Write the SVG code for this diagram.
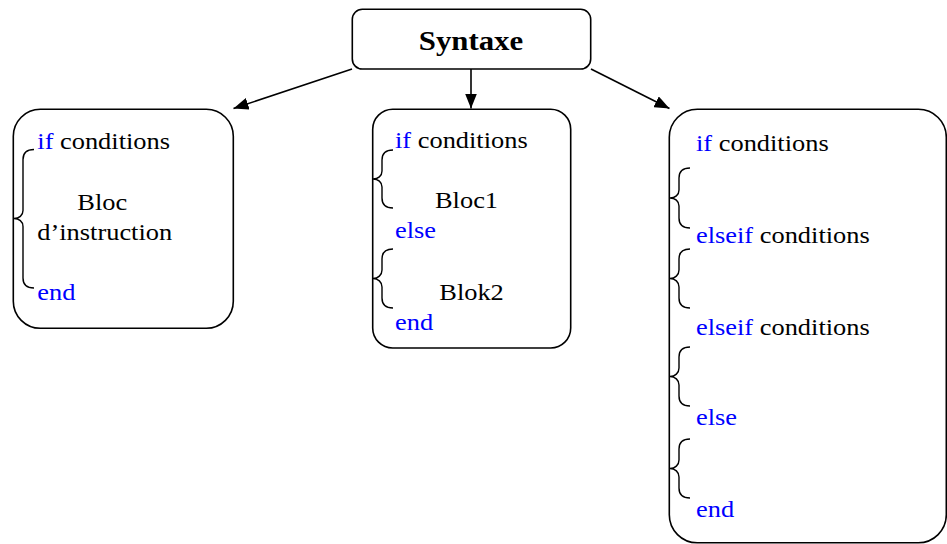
<svg xmlns="http://www.w3.org/2000/svg" width="947" height="544" viewBox="0 0 947 544">
  <style>
    .box { fill: #ffffff; stroke: #000000; stroke-width: 1.6; }
    .edge { stroke: #000000; stroke-width: 1.6; fill: none; }
    .brace { stroke: #000000; stroke-width: 1.4; fill: none; }
    .t { font-family: "Liberation Serif", "Times New Roman", serif; font-size: 24px; fill: #000000; }
    .kw { fill: #0000ff; }
    .title { font-family: "Liberation Serif", "Times New Roman", serif; font-size: 28px; font-weight: bold; fill: #000000; }
  </style>
  <defs>
    <marker id="arrow" viewBox="0 0 15 12" refX="15" refY="6" markerWidth="15" markerHeight="12" markerUnits="userSpaceOnUse" orient="auto">
      <path d="M0,0 L15,6 L0,12 Z" fill="#000000"/>
    </marker>
  </defs>

  <rect width="947" height="544" fill="#ffffff"/>

  <!-- connectors from the root box to the three syntax forms -->
  <g id="connectors">
    <line class="edge" x1="352" y1="69" x2="233.5" y2="108.5" marker-end="url(#arrow)"/>
    <line class="edge" x1="471" y1="69" x2="471" y2="108.5" marker-end="url(#arrow)"/>
    <line class="edge" x1="591" y1="69" x2="669.5" y2="108.5" marker-end="url(#arrow)"/>
  </g>

  <!-- root -->
  <g id="syntaxe">
    <rect class="box" x="352.3" y="9.3" width="238.4" height="59.7" rx="10"/>
    <text class="title" transform="matrix(1.1 0 0 1 471 50)" text-anchor="middle">Syntaxe</text>
  </g>

  <!-- if ... end -->
  <g id="if-end">
    <rect class="box" x="13.3" y="109.3" width="220" height="219" rx="27"/>
    <path class="brace" d="M34,149.5 C27,149.5 23,152.5 23,159.5 L23,210.5 C23,215.5 19,218.5 14,218.5 C19,218.5 23,221.5 23,226.5 L23,278 C23,285 27,288 34,288"/>
    <text class="t" transform="matrix(1.1 0 0 1 37.3 149)"><tspan class="kw">if</tspan> conditions</text>
    <text class="t" transform="matrix(1.1 0 0 1 77.3 210)">Bloc</text>
    <text class="t" transform="matrix(1.1 0 0 1 37.3 240)">d’instruction</text>
    <text class="t kw" transform="matrix(1.1 0 0 1 37.3 300)">end</text>
  </g>

  <!-- if ... else ... end -->
  <g id="if-else-end">
    <rect class="box" x="372.7" y="109.3" width="198" height="238.7" rx="20"/>
    <path class="brace" d="M393,150 C386,150 382,153 382,160 L382,171 C382,176 378,179 373,179 C378,179 382,182 382,187 L382,198 C382,205 386,208 393,208"/>
    <path class="brace" d="M393,249 C386,249 382,252 382,259 L382,270 C382,275 378,278.5 373,278.5 C378,278.5 382,282 382,287 L382,298 C382,305 386,308 393,308"/>
    <text class="t" transform="matrix(1.1 0 0 1 395 148)"><tspan class="kw">if</tspan> conditions</text>
    <text class="t" transform="matrix(1.1 0 0 1 435 208)">Bloc1</text>
    <text class="t kw" transform="matrix(1.1 0 0 1 395 238)">else</text>
    <text class="t" transform="matrix(1.1 0 0 1 439.3 300)">Blok2</text>
    <text class="t kw" transform="matrix(1.1 0 0 1 395 330)">end</text>
  </g>

  <!-- if ... elseif ... elseif ... else ... end -->
  <g id="if-elseif-else-end">
    <rect class="box" x="669.3" y="109.3" width="277" height="433.5" rx="28"/>
    <path class="brace" d="M690,168 C683,168 679,171 679,178 L679,190 C679,195 675,198 670,198 C675,198 679,201 679,206 L679,218 C679,225 683,228 690,228"/>
    <path class="brace" d="M690,249 C683,249 679,252 679,259 L679,270 C679,275 675,278.5 670,278.5 C675,278.5 679,282 679,287 L679,298 C679,305 683,308 690,308"/>
    <path class="brace" d="M690,347 C683,347 679,350 679,357 L679,368 C679,373 675,376.5 670,376.5 C675,376.5 679,380 679,385 L679,396 C679,403 683,406 690,406"/>
    <path class="brace" d="M690,439 C683,439 679,442 679,449 L679,460 C679,465 675,468.5 670,468.5 C675,468.5 679,472 679,477 L679,488 C679,495 683,498 690,498"/>
    <text class="t" transform="matrix(1.1 0 0 1 696 151)"><tspan class="kw">if</tspan> conditions</text>
    <text class="t" transform="matrix(1.1 0 0 1 696 243)"><tspan class="kw">elseif</tspan> conditions</text>
    <text class="t" transform="matrix(1.1 0 0 1 696 335)"><tspan class="kw">elseif</tspan> conditions</text>
    <text class="t kw" transform="matrix(1.1 0 0 1 696 425)">else</text>
    <text class="t kw" transform="matrix(1.1 0 0 1 696 517)">end</text>
  </g>
</svg>
